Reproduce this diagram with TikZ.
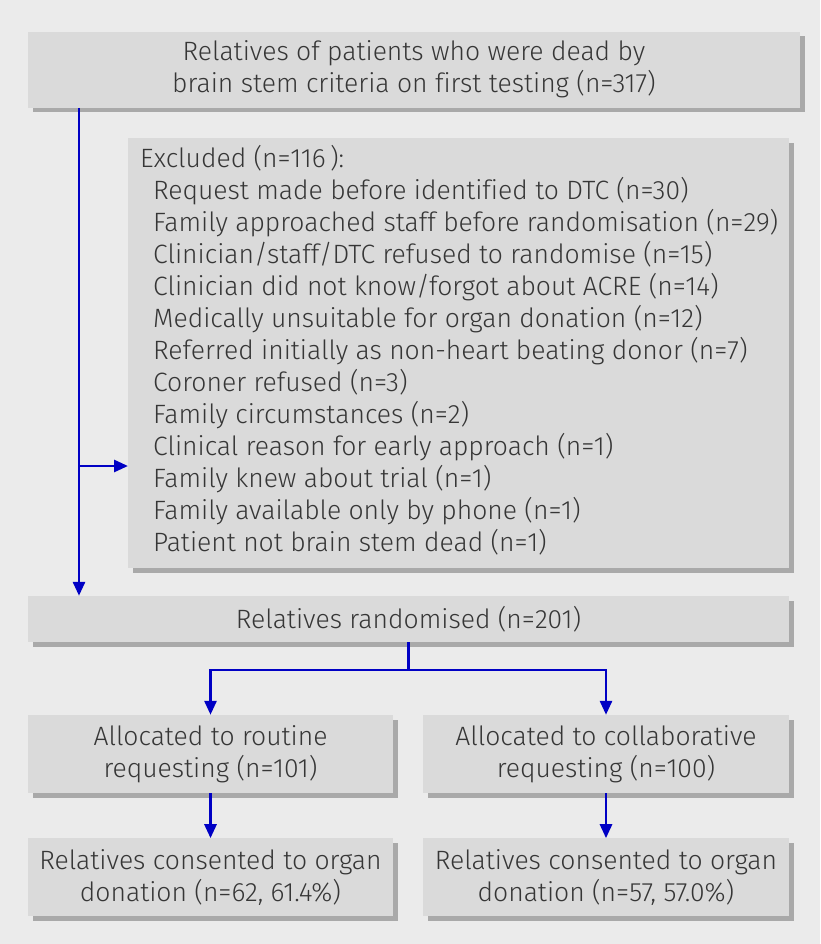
\documentclass[tikz,border=0pt]{standalone}
\usepackage{fontspec}
\setmainfont{Fira Sans}[UprightFont=* Light, Ligatures=NoCommon]
\usepackage{xcolor}
\usetikzlibrary{positioning,arrows.meta,shadows,calc}
\definecolor{bgrey}{HTML}{EBEBEB}
\definecolor{boxgrey}{HTML}{DADADA}
\definecolor{shadegrey}{HTML}{A9A9A9}
\definecolor{txtgrey}{HTML}{363636}
\definecolor{flowblue}{HTML}{0000C4}

\begin{document}
\begin{tikzpicture}[
  x=1pt, y=-1pt,
  box/.style={fill=boxgrey, align=center, text=txtgrey, inner sep=0pt,
    font=\fontsize{26.5}{32}\selectfont, minimum width=#1,
    drop shadow={shadow xshift=4.5pt, shadow yshift=-4.5pt, fill=shadegrey, opacity=1}},
  arr/.style={-{Triangle[length=14pt,width=12pt]}, line width=2.8pt, draw=flowblue},
  ln/.style={line width=2.8pt, draw=flowblue}
]
\fill[bgrey] (0,0) rectangle (820,944);
\useasboundingbox (0,0) rectangle (820,944);

\node[box=772pt, minimum height=76pt] (dead) at (414,70)
  {\raisebox{-3pt}{\begin{tabular}{@{}c@{}}Relatives of patients who were dead by\\ brain stem criteria on first testing (n=317)\end{tabular}}};
\node[box=661pt, minimum height=430pt, anchor=north west] (excl) at (128,138)
  {\makebox[661pt][l]{\hspace*{12pt}\begin{tabular}[t]{@{}l@{}}
   Excluded (n=116\,):\\
   \hspace*{13pt}Request made before identified to DTC (n=30)\\
   \hspace*{13pt}Family approached staff before randomisation (n=29)\\
   \hspace*{13pt}Clinician/staff/DTC refused to randomise (n=15)\\
   \hspace*{13pt}Clinician did not know/forgot about ACRE (n=14)\\
   \hspace*{13pt}Medically unsuitable for organ donation (n=12)\\
   \hspace*{13pt}Referred initially as non-heart beating donor (n=7)\\
   \hspace*{13pt}Coroner refused (n=3)\\
   \hspace*{13pt}Family circumstances (n=2)\\
   \hspace*{13pt}Clinical reason for early approach (n=1)\\
   \hspace*{13pt}Family knew about trial (n=1)\\
   \hspace*{13pt}Family available only by phone (n=1)\\
   \hspace*{13pt}Patient not brain stem dead (n=1)
   \end{tabular}}};
\node[box=761pt, minimum height=46pt] (rand) at (408.5,619) {Relatives randomised (n=201)};

\node[box=365pt, minimum height=78pt] (routine) at (210.5,754)
  {Allocated to routine\\ requesting (n=101)};
\node[box=366pt, minimum height=78pt] (collab) at (606,754)
  {Allocated to collaborative\\ requesting (n=100)};
\node[box=365pt, minimum height=78pt, below=45pt of routine] (consR)
  {Relatives consented to organ\\ donation (n=62, 61.4\%)};
\node[box=366pt, minimum height=78pt, below=45pt of collab] (consC)
  {Relatives consented to organ\\ donation (n=57, 57.0\%)};

% trunk from first box
\coordinate (trunk) at (79,108);
\coordinate (branch) at (79,466);
\coordinate (split) at (408.5,670);
\draw[arr] (trunk) -- (trunk |- rand.north);
\draw[arr] (branch) -- (branch -| excl.west);
\draw[ln] (rand.south) -- (split);
\draw[arr] (split) -| (routine.north);
\draw[arr] (split) -| (collab.north);
\draw[arr] (routine) -- (consR);
\draw[arr] (collab) -- (consC);
\end{tikzpicture}
\end{document}
